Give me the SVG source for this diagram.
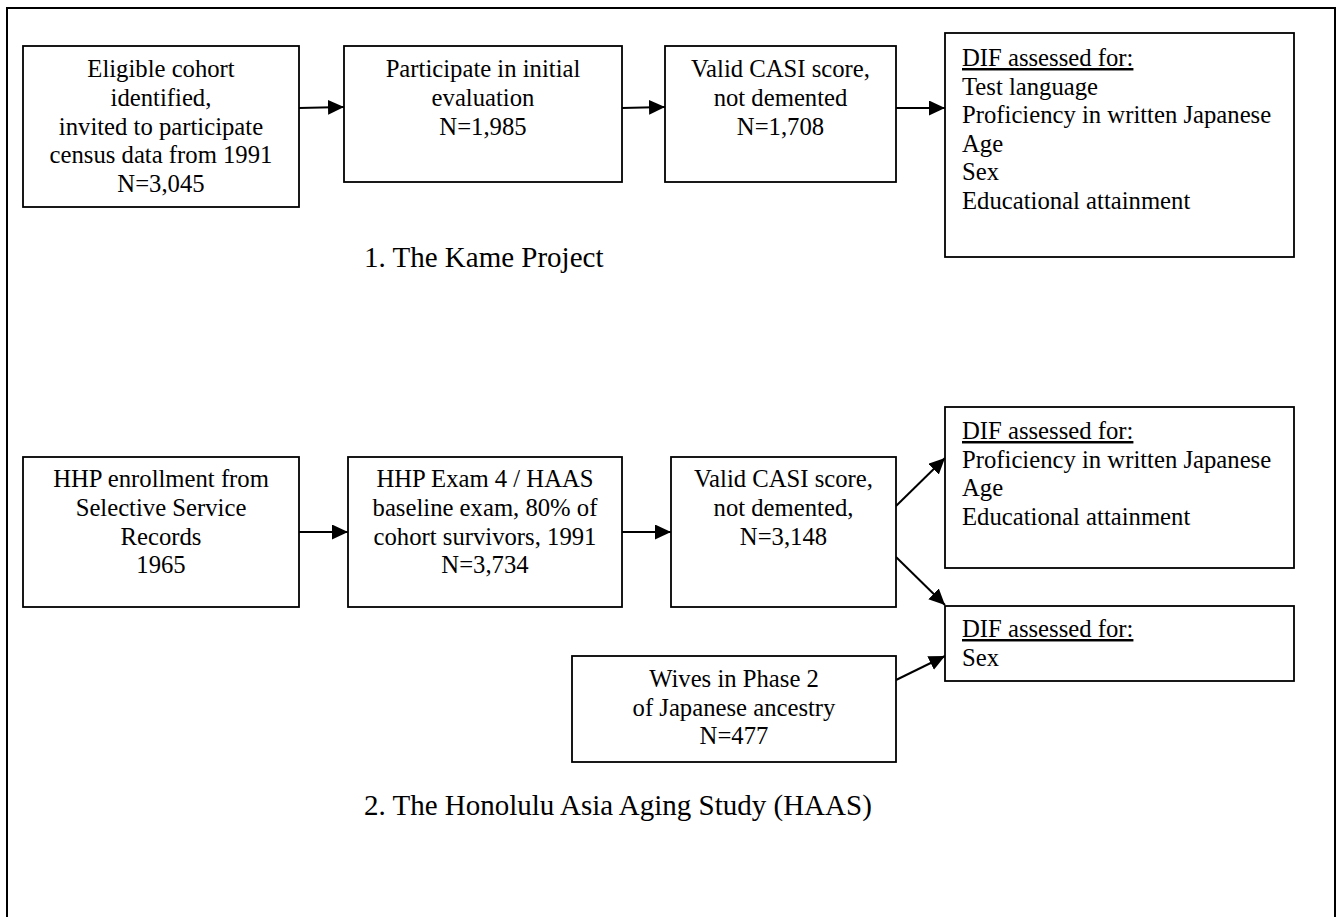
<svg xmlns="http://www.w3.org/2000/svg" width="1340" height="917" viewBox="0 0 1340 917">
<style>
.box{fill:#fff;stroke:#000;stroke-width:1.8}
.t{font-family:"Liberation Serif","Times New Roman",serif;font-size:24.7px;fill:#000}
.c{text-anchor:middle}
.title{font-family:"Liberation Serif","Times New Roman",serif;font-size:29px;fill:#000}
.u{text-decoration:underline}
.conn{stroke:#000;stroke-width:2;fill:none;marker-end:url(#ah)}
</style>
<defs>
<marker id="ah" markerUnits="userSpaceOnUse" markerWidth="18" markerHeight="16" refX="16" refY="7.5" orient="auto">
<path d="M0,0 L16,7.5 L0,15 Z" fill="#000"/>
</marker>
</defs>
<rect width="1340" height="917" fill="#fff"/>
<path d="M7,930 L7,8 L1335,8 L1335,930" fill="none" stroke="#000" stroke-width="2"/>

<g id="connectors">
<line class="conn" x1="299" y1="108" x2="344" y2="107"/>
<line class="conn" x1="622" y1="108" x2="665" y2="107"/>
<line class="conn" x1="896" y1="108" x2="945" y2="108"/>
<line class="conn" x1="299" y1="532" x2="348" y2="532"/>
<line class="conn" x1="622" y1="532" x2="671" y2="532"/>
<line class="conn" x1="896" y1="506" x2="945" y2="458"/>
<line class="conn" x1="896" y1="557" x2="945" y2="605"/>
<line class="conn" x1="896" y1="680" x2="945" y2="656"/>
</g>

<g id="n1">
<rect class="box" x="23" y="46" width="276" height="161"/>
<text class="t c" x="161" y="77">Eligible cohort</text>
<text class="t c" x="161" y="106">identified,</text>
<text class="t c" x="161" y="134.5">invited to participate</text>
<text class="t c" x="161" y="163">census data from 1991</text>
<text class="t c" x="161" y="191.5">N=3,045</text>
</g>
<g id="n2">
<rect class="box" x="344" y="46" width="278" height="136"/>
<text class="t c" x="483" y="77">Participate in initial</text>
<text class="t c" x="483" y="106">evaluation</text>
<text class="t c" x="483" y="134.5">N=1,985</text>
</g>
<g id="n3">
<rect class="box" x="665" y="46" width="231" height="136"/>
<text class="t c" x="780.5" y="77">Valid CASI score,</text>
<text class="t c" x="780.5" y="106">not demented</text>
<text class="t c" x="780.5" y="134.5">N=1,708</text>
</g>
<g id="n4">
<rect class="box" x="945" y="33" width="349" height="224"/>
<text class="t u" x="962" y="66">DIF assessed for:</text>
<text class="t" x="962" y="94.5">Test language</text>
<text class="t" x="962" y="123">Proficiency in written Japanese</text>
<text class="t" x="962" y="151.5">Age</text>
<text class="t" x="962" y="180">Sex</text>
<text class="t" x="962" y="208.5">Educational attainment</text>
</g>
<g id="title1">
<text class="title" x="364" y="267">1. The Kame Project</text>
</g>

<g id="n5">
<rect class="box" x="23" y="457" width="276" height="150"/>
<text class="t c" x="161" y="487">HHP enrollment from</text>
<text class="t c" x="161" y="516">Selective Service</text>
<text class="t c" x="161" y="544.5">Records</text>
<text class="t c" x="161" y="573">1965</text>
</g>
<g id="n6">
<rect class="box" x="348" y="457" width="274" height="150"/>
<text class="t c" x="485" y="487">HHP Exam 4 / HAAS</text>
<text class="t c" x="485" y="516">baseline exam, 80% of</text>
<text class="t c" x="485" y="544.5">cohort survivors, 1991</text>
<text class="t c" x="485" y="573">N=3,734</text>
</g>
<g id="n7">
<rect class="box" x="671" y="457" width="225" height="150"/>
<text class="t c" x="783.5" y="487">Valid CASI score,</text>
<text class="t c" x="783.5" y="516">not demented,</text>
<text class="t c" x="783.5" y="544.5">N=3,148</text>
</g>
<g id="n8">
<rect class="box" x="945" y="407" width="349" height="161"/>
<text class="t u" x="962" y="439">DIF assessed for:</text>
<text class="t" x="962" y="467.5">Proficiency in written Japanese</text>
<text class="t" x="962" y="496">Age</text>
<text class="t" x="962" y="524.5">Educational attainment</text>
</g>
<g id="n9">
<rect class="box" x="945" y="606" width="349" height="75"/>
<text class="t u" x="962" y="637">DIF assessed for:</text>
<text class="t" x="962" y="665.5">Sex</text>
</g>
<g id="n10">
<rect class="box" x="572" y="656" width="324" height="106"/>
<text class="t c" x="734" y="687">Wives in Phase 2</text>
<text class="t c" x="734" y="715.5">of Japanese ancestry</text>
<text class="t c" x="734" y="744">N=477</text>
</g>
<g id="title2">
<text class="title" x="364" y="815">2. The Honolulu Asia Aging Study (HAAS)</text>
</g>
</svg>
